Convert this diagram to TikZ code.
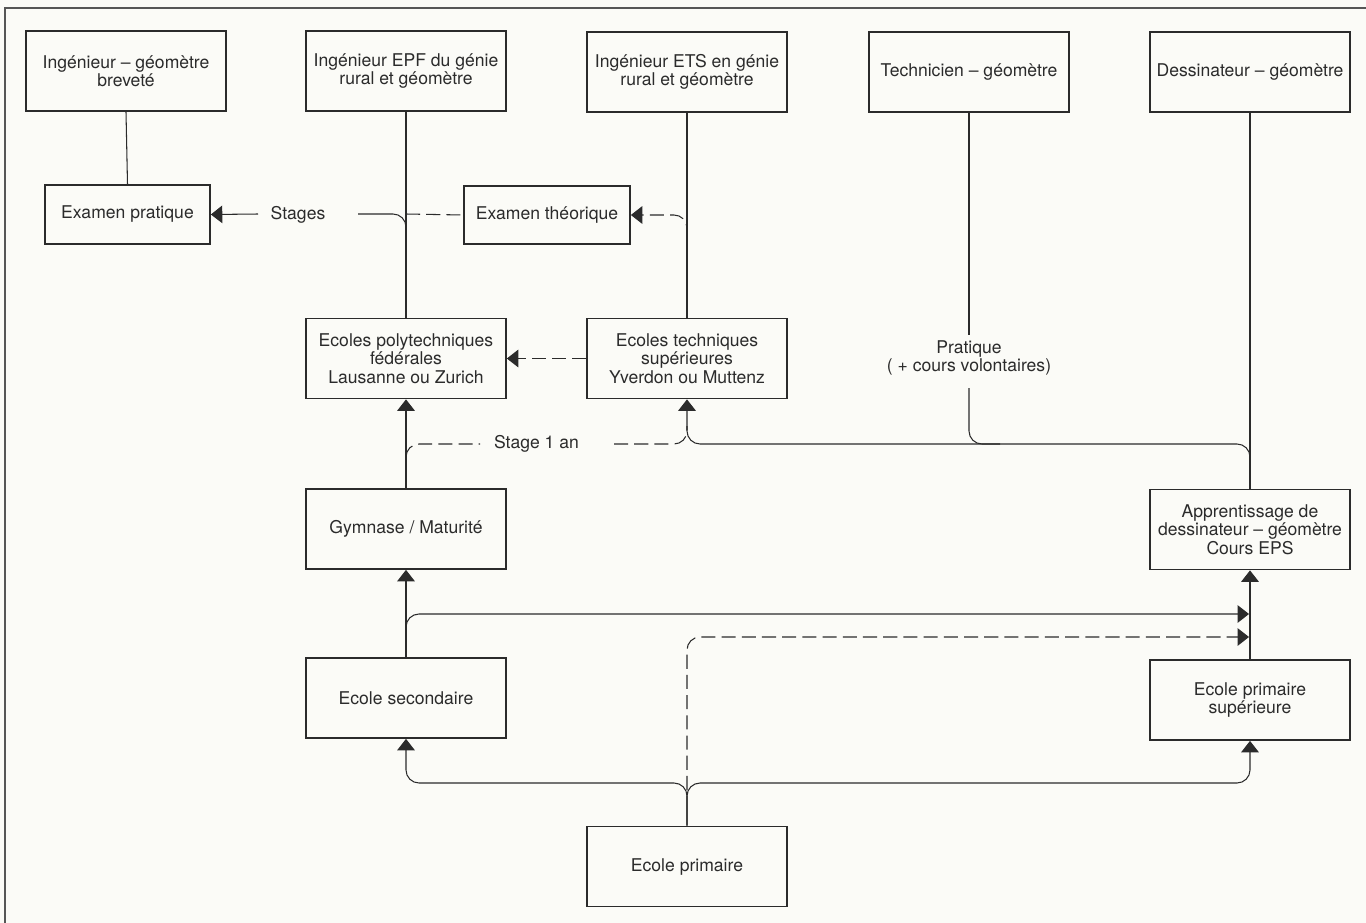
\documentclass[tikz,border=0pt]{standalone}
\usepackage{fontspec}
\setmainfont{TeX Gyre Heros}
\usetikzlibrary{arrows.meta}
\definecolor{bg}{rgb}{0.986,0.986,0.97}
\definecolor{ink}{rgb}{0.17,0.17,0.17}
\begin{document}
\begin{tikzpicture}[x=0.02cm,y=-0.02cm,
  box/.style={draw=ink,line width=1pt,minimum width=4cm,minimum height=1.6cm,align=center,inner sep=2pt,text=ink,font=\fontsize{10}{10.5}\selectfont},
  conn/.style={draw=ink,line width=0.6pt,rounded corners=0.26cm},
  arr/.style={conn,-{Triangle[length=6.5pt,width=10pt]}},
  dsh/.style={dash pattern=on 8pt off 3.5pt},
  lbl/.style={text=ink,align=center,font=\fontsize{10}{10.5}\selectfont}]
\fill[bg] (0,0) rectangle (1366,923);
\useasboundingbox (0,0) rectangle (1366,923);
\draw[ink!80,line width=1.1pt] (1366,8) -- (5,8) -- (5,923);
% top row
\node[box] (b1) at (126,71) {Ingénieur – géomètre\\breveté};
\node[box] (b2) at (406,71) {Ingénieur EPF du génie\\rural et géomètre};
\node[box] (b3) at (687,72) {Ingénieur ETS en génie\\rural et géomètre};
\node[box] (b4) at (969,72) {Technicien – géomètre};
\node[box] (b5) at (1250,72) {Dessinateur – géomètre};
% examens
\node[box,minimum width=3.3cm,minimum height=1.18cm] (ep) at (127.5,214.5) {Examen pratique};
\node[box,minimum width=3.32cm,minimum height=1.16cm] (et) at (547,215) {Examen théorique};
% schools
\node[box] (epf) at (406,358.5) {Ecoles polytechniques\\fédérales\\Lausanne ou Zurich};
\node[box] (ets) at (687,358.5) {Ecoles techniques\\supérieures\\Yverdon ou Muttenz};
\node[box] (gym) at (406,529) {Gymnase / Maturité};
\node[box] (app) at (1250,529.5) {Apprentissage de\\dessinateur – géomètre\\Cours EPS};
\node[box] (sec) at (406,698) {Ecole secondaire};
\node[box] (eps) at (1250,700) {Ecole primaire\\supérieure};
\node[box] (prim) at (687,866.5) {Ecole primaire};
% labels
\node[lbl] (stg) at (298,215) {Stages};
\node[lbl] (stg1) at (536.5,444) {Stage 1 an};
\node[lbl] (prat) at (969,358) {Pratique\\( + cours volontaires)};
% junction coordinates
\coordinate (jstg) at (406,238);
\coordinate (jstgL) at (358,214);
\coordinate (jstgR) at (258,214);
\coordinate (jet) at (687,238);
\coordinate (jetL) at (406,214);
\coordinate (jpa) at (969,335);
\coordinate (jpb) at (969,388);
\coordinate (jh) at (1250,470);
\coordinate (js1a) at (406,478);
\coordinate (js1b) at (480,444);
\coordinate (js1c) at (614,444);
\coordinate (js1d) at (687,426);
\coordinate (jsec) at (406,645);
\coordinate (jtip1) at (1249,614);
\coordinate (jd) at (687,790);
\coordinate (jtip2) at (1249,637);
\coordinate (jb) at (687,783);
% vertical links
\draw[conn] (b1.south) -- (ep.north);
\draw[conn] (b2.south) -- (epf.north);
\draw[conn] (b3.south) -- (ets.north);
\draw[conn] (b4.south) -- (jpa);
\draw[conn] (b5.south) -- (app.north);
% stages
\draw[arr] (jstgR) -- (ep.east);
\draw[conn] (jstg) |- (jstgL);
\draw[conn,dsh] (jetL) -- (et.west);
\draw[arr,dsh] (jet) |- (et.east);
\draw[arr,dsh] (ets.west) -- (epf.east);
% stage 1 an / pratique
\draw[arr] (gym.north) -- (epf.south);
\draw[conn,dsh] (js1a) |- (js1b);
\draw[conn,dsh] (js1c) -| (js1d);
\draw[conn] (jpb) |- (1000,444);
\draw[arr] (jh) |- (687,444) -- (ets.south);
% lower part
\draw[arr] (sec.north) -- (gym.south);
\draw[arr] (jsec) |- (jtip1);
\draw[arr,dsh] (jd) |- (jtip2);
\draw[arr] (eps.north) -- (app.south);
\draw[arr] (prim.north) -- (jb) -| (sec.south);
\draw[arr] (prim.north) -- (jb) -| (eps.south);
\end{tikzpicture}
\end{document}
